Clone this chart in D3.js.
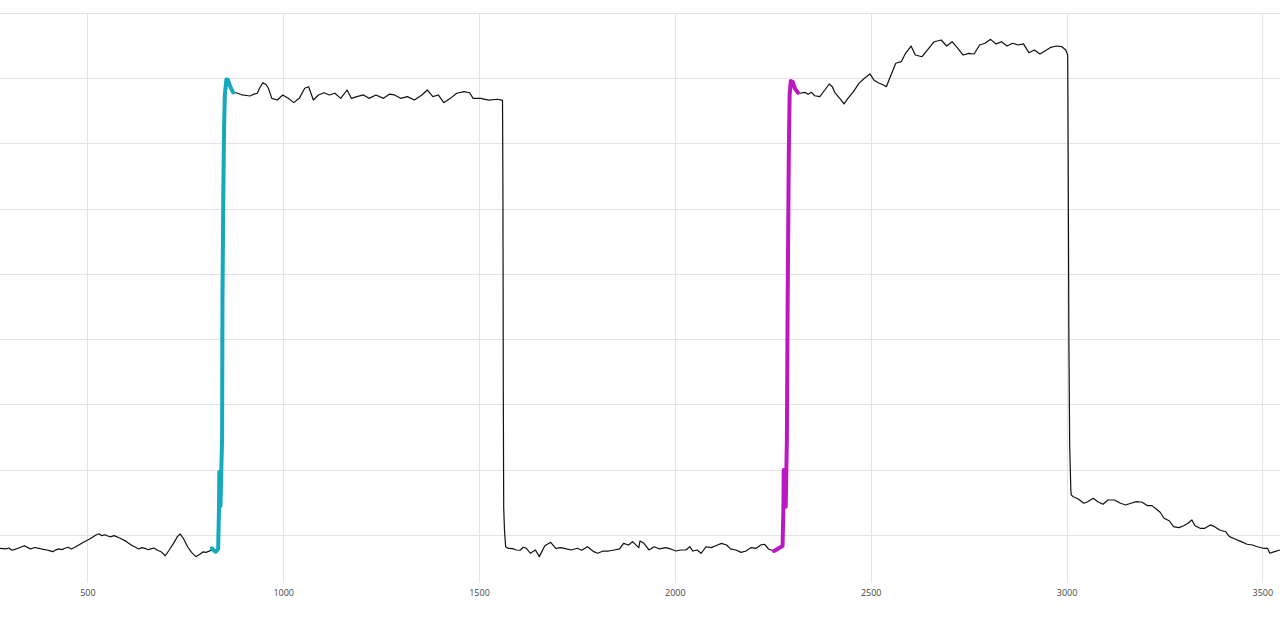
<!DOCTYPE html>
<html>
<head>
<meta charset="utf-8">
<script src="https://cdn.jsdelivr.net/npm/d3@7"></script>
<style>
  html, body { margin: 0; padding: 0; background: #ffffff; }
  svg { display: block; }
</style>
</head>
<body>
<svg id="chart" width="1280" height="627"></svg>
<script>
// ---- data ----
const xTicks = [500, 1000, 1500, 2000, 2500, 3000, 3500];
const yGrid = [0, 50, 100, 150, 200, 250, 300, 350, 400];

const blackX = [277, 292, 300, 307, 315, 323, 339, 347, 355, 366, 376, 387, 397, 405, 412, 420, 427, 435, 443, 451, 459, 467, 475, 490, 506, 522, 530, 537, 545, 552, 560, 568, 584, 600, 615, 623, 631, 639, 647, 655, 662, 670, 678, 688, 699, 709, 720, 730, 737, 746, 756, 766, 777, 787, 795, 803, 811, 818, 823, 828, 834,
  836, 837, 840, 842, 844, 845, 847, 849, 851, 855, 859, 864, 872,
  882, 895, 907, 915, 923, 934, 940, 948, 956, 962, 971, 985, 999, 1013, 1027, 1041, 1055, 1065, 1077, 1090, 1104, 1118, 1132, 1147, 1163, 1174, 1188, 1205, 1219, 1237, 1256, 1272, 1284, 1300, 1317, 1335, 1354, 1368, 1382, 1396, 1410, 1427, 1443, 1462, 1476, 1485, 1504, 1525, 1546, 1558,
  1560, 1561, 1562, 1563, 1565, 1568,
  1574, 1579, 1589, 1596, 1605, 1613, 1621, 1631, 1644, 1654, 1668, 1683, 1696, 1709, 1723, 1736, 1751, 1762, 1777, 1793, 1803, 1817, 1831, 1845, 1859, 1869, 1882, 1892, 1908, 1911, 1921, 1934, 1947, 1961, 1976, 1989, 2003, 2015, 2028, 2038, 2046, 2057, 2067, 2080, 2093, 2109, 2119, 2132, 2142, 2156, 2169, 2182, 2194, 2208, 2219, 2229, 2239, 2253, 2258, 2266, 2275,
  2277, 2278, 2283, 2286, 2288, 2291, 2293, 2296, 2301, 2306, 2314,
  2319, 2332, 2340, 2349, 2357, 2370, 2383, 2394, 2402, 2408, 2421, 2432, 2442, 2456, 2470, 2484, 2498, 2508, 2519, 2533, 2540, 2550, 2564, 2578, 2589, 2603, 2614, 2631, 2645, 2662, 2680, 2694, 2708, 2722, 2736, 2750, 2764, 2778, 2792, 2806, 2820, 2834, 2848, 2862, 2876, 2890, 2904, 2918, 2932, 2946, 2960, 2974, 2988, 2998, 3003,
  3004, 3006, 3008, 3011, 3012,
  3017, 3030, 3044, 3054, 3068, 3080, 3093, 3106, 3122, 3138, 3151, 3164, 3179, 3193, 3206, 3218, 3229, 3239, 3249, 3263, 3273, 3287, 3299, 3310, 3320, 3328, 3341, 3353, 3367, 3378, 3391, 3406, 3416, 3430, 3446, 3461, 3475, 3487, 3503, 3513, 3519, 3531, 3545];

const blackY = [-10.2, -10.7, -10.0, -11.7, -11.0, -10.2, -8.2, -9.5, -10.7, -9.6, -10.2, -11.0, -11.5, -12.2, -12.8, -11.4, -10.7, -11.2, -10.2, -9.4, -10.7, -9.6, -8.2, -5.6, -3.1, 0.0, 0.9, -0.5, 0.2, -0.8, -1.4, -0.5, -2.5, -5.1, -8.2, -9.4, -10.7, -9.7, -10.2, -11.3, -10.7, -10.0, -11.5, -12.8, -15.9, -11.5, -6.4, -1.3, 0.8, -3.1, -9.0, -13.3, -16.6, -14.8, -13.0, -13.3, -12.4, -11.5, -11.9, -12.8, -10.7,
  19.2, 48.3, 22.2, 49.8, 72.8, 180.1, 256.7, 310.4, 337.2, 349.1, 348.7, 344.1, 339.1,
  338.7, 337.2, 336.8, 336.4, 337.6, 338.5, 342.5, 346.6, 345.2, 342.5, 334.6, 333.3, 337.2, 334.6, 331.3, 334.6, 342.3, 343.5, 333.3, 337.2, 338.9, 337.2, 338.5, 334.6, 341.0, 334.6, 335.9, 337.2, 334.6, 337.2, 334.6, 337.9, 337.2, 334.6, 335.9, 333.3, 337.2, 341.0, 335.9, 337.2, 331.3, 334.6, 338.5, 339.7, 338.9, 334.6, 334.6, 333.3, 333.9, 333.3,
  333.3, 266.8, 108.8, 20.7, 3.8, -9.0,
  -10.2, -10.2, -10.7, -11.5, -11.7, -9.4, -10.2, -14.0, -11.5, -16.6, -8.2, -5.6, -10.2, -9.7, -10.7, -11.5, -10.2, -11.7, -9.0, -12.8, -14.0, -12.3, -12.3, -11.5, -10.7, -6.4, -7.7, -5.1, -9.7, -4.6, -6.4, -11.5, -9.0, -10.7, -9.7, -10.7, -12.3, -11.5, -11.5, -9.0, -12.3, -11.5, -14.0, -9.0, -9.7, -7.7, -6.4, -7.7, -10.7, -11.5, -13.3, -12.3, -9.7, -10.2, -7.7, -7.1, -10.7, -12.3, -11.5, -10.0, -8.4,
  19.2, 49.8, 21.7, 72.8, 180.1, 295.0, 337.2, 347.9, 347.1, 342.5, 338.9,
  338.5, 339.2, 337.7, 339.2, 336.6, 335.9, 341.0, 345.6, 343.5, 339.2, 334.6, 330.3, 334.6, 339.7, 346.1, 350.0, 353.3, 348.7, 346.6, 344.8, 343.5, 351.2, 361.5, 362.7, 369.1, 374.7, 367.8, 366.5, 371.7, 378.0, 379.3, 374.7, 378.0, 373.0, 367.8, 369.1, 368.6, 375.5, 376.8, 379.8, 376.3, 378.0, 374.7, 376.8, 375.5, 376.3, 369.6, 371.7, 368.6, 371.1, 373.7, 374.7, 374.2, 371.7, 367.8,
  302.7, 149.4, 69.0, 34.5, 30.7,
  29.3, 27.6, 24.3, 25.5, 28.1, 25.5, 23.5, 26.8, 26.8, 24.3, 23.0, 24.3, 25.5, 25.1, 22.5, 22.5, 19.9, 17.4, 12.8, 10.7, 6.4, 5.6, 7.1, 9.0, 11.5, 7.1, 5.1, 5.1, 7.7, 6.4, 3.8, 2.5, -1.3, -3.1, -5.1, -7.1, -7.7, -9.0, -10.2, -10.2, -14.0, -12.8, -11.5];

const cyanX = [818, 823, 828, 834, 836, 837, 840, 842, 844, 845, 847, 849, 851, 855, 859, 864, 872];
const cyanY = [-10.2, -11.9, -12.8, -10.7, 19.2, 48.3, 22.2, 49.8, 72.8, 180.1, 256.7, 310.4, 337.2, 349.1, 348.7, 344.1, 339.1];

const magentaX = [2253, 2258, 2266, 2275, 2277, 2278, 2283, 2286, 2288, 2291, 2293, 2296, 2301, 2306, 2314];
const magentaY = [-12.3, -11.5, -10.0, -8.4, 19.2, 49.8, 21.7, 72.8, 180.1, 295.0, 337.2, 347.9, 347.1, 342.5, 338.9];

// ---- drawing ----
const W = 1280, H = 627;
const svg = d3.select("#chart");

const x = d3.scaleLinear().domain([277, 3545]).range([0, W]);
const y = d3.scaleLinear().domain([-36.8, 400]).range([583, 13]);

const grid = svg.append("g");
grid.selectAll("line.h").data(yGrid).enter().append("line")
  .attr("x1", 0).attr("x2", W)
  .attr("y1", d => Math.round(y(d)) + 0.5).attr("y2", d => Math.round(y(d)) + 0.5)
  .attr("stroke", "#e3e3e3").attr("stroke-width", 1);
grid.selectAll("line.v").data(xTicks).enter().append("line")
  .attr("x1", d => Math.round(x(d)) + 0.5).attr("x2", d => Math.round(x(d)) + 0.5)
  .attr("y1", 13).attr("y2", 583)
  .attr("stroke", "#e3e3e3").attr("stroke-width", 1);

const xAxis = d3.axisBottom(x).tickValues(xTicks).tickSize(0).tickPadding(0).tickFormat(d3.format("d"));
const ax = svg.append("g").attr("transform", "translate(0,590)").call(xAxis);
ax.select(".domain").remove();
ax.selectAll("text")
  .attr("dy", "0.71em")
  .attr("fill", "#444")
  .style("font-family", "'Open Sans', sans-serif")
  .style("font-size", "9px");

const line = d3.line().x(d => x(d[0])).y(d => y(d[1]));

const blackData = blackX.map((v, i) => [v, blackY[i]]);
const cyanData = cyanX.map((v, i) => [v, cyanY[i]]);
const magentaData = magentaX.map((v, i) => [v, magentaY[i]]);

svg.append("path").datum(blackData).attr("d", line)
  .attr("fill", "none").attr("stroke", "#111").attr("stroke-width", 1.2)
  .attr("stroke-linejoin", "round");

svg.append("path").datum(cyanData).attr("d", line)
  .attr("fill", "none").attr("stroke", "#14a9bc").attr("stroke-width", 4)
  .attr("stroke-linejoin", "round").attr("stroke-linecap", "round");

svg.append("path").datum(magentaData).attr("d", line)
  .attr("fill", "none").attr("stroke", "#bb18c4").attr("stroke-width", 4)
  .attr("stroke-linejoin", "round").attr("stroke-linecap", "round");
</script>
</body>
</html>
